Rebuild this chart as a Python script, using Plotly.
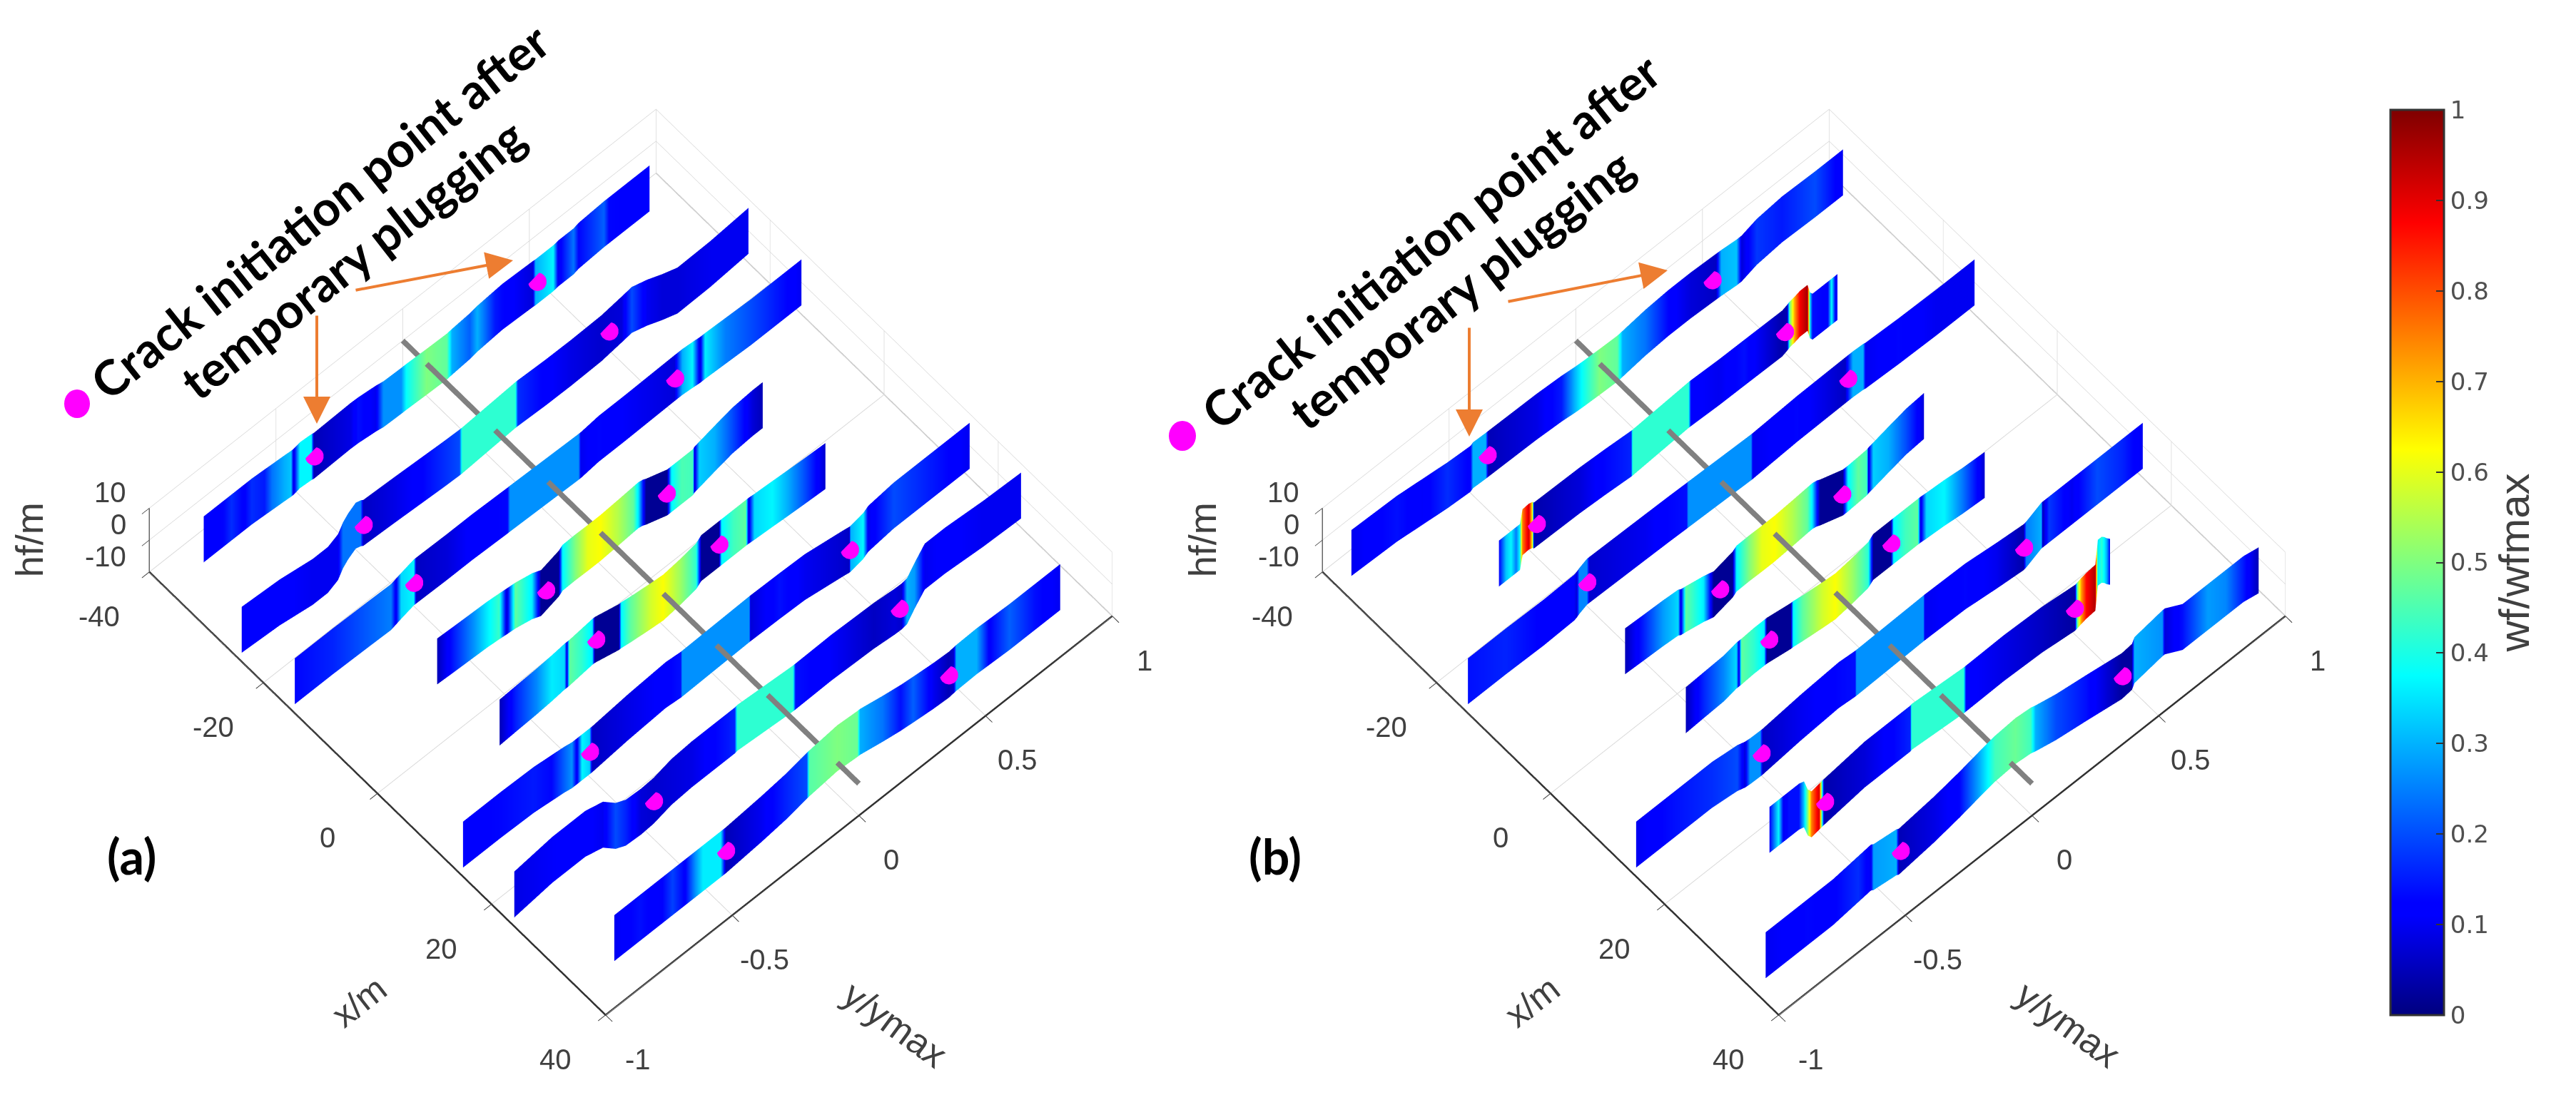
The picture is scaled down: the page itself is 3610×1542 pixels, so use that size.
import math
import plotly.graph_objects as go

W, H = 3610, 1542
HALF = 7.2

# ribbon rows: (y/ymax, wf/wfmax, centre height hf)
A1 = [(-.88,.11,0),(-.8,.13,0),(-.77,.17,0),(-.72,.12,0),(-.69,.17,0),(-.64,.15,-.3),(-.61,.24,-.5),(-.56,.3,-.8),(-.535,.32,-1),(-.525,.08,-1),(-.5,.37,-.5),(-.455,.37,-.8),(-.445,.05,-1),(-.3,.09,-.7),(-.27,.14,-.8),(-.2,.1,-1.5),(-.17,.27,-2),(-.1,.27,-2.2),(-.08,.38,-2.2),(0,.5,-2.5),(.08,.47,-2.7),(.1,.3,-2.5),(.17,.22,-2),(.2,.3,-1.5),(.27,.15,-1),(.3,.13,-.8),(.42,.08,-1.2),(.43,.3,-1.3),(.5,.37,-1.3),(.52,.1,-1),(.58,.24,-1),(.6,.13,-.5),(.7,.22,0),(.72,.13,0),(.88,.12,0)]
A2 = [(-1,.11,0),(-.85,.12,-.8),(-.72,.1,-2.5),(-.66,.1,-2.5),(-.62,.1,-1),(-.6,.24,1.5),(-.58,.24,3),(-.55,.24,4.5),(-.53,.24,4),(-.52,.06,3.5),(-.4,.09,3),(-.3,.12,2.5),(-.2,.17,2),(-.14,.2,1.8),(-.13,.42,1.8),(.08,.42,2.9),(.09,.17,2.9),(.2,.12,2.5),(.3,.09,2.4),(.42,.07,2.6),(.5,.08,3.5),(.54,.2,4),(.6,.1,2.5),(.66,.08,.5),(.72,.08,-1.2),(.85,.1,-1),(1,.1,0)]
A3 = [(-1,.13,0),(-.85,.16,0),(-.7,.22,-.3),(-.62,.25,-.5),(-.6,.1,0),(-.58,.34,.5),(-.53,.37,1.6),(-.52,.06,1.6),(-.4,.08,1.4),(-.3,.12,1.4),(-.16,.13,1),(-.15,.27,1),(.12,.27,.3),(.13,.1,.3),(.2,.13,1),(.3,.11,1),(.5,.08,1.3),(.53,.3,1.3),(.57,.37,1),(.6,.08,.7),(.62,.36,.7),(.7,.25,.4),(.8,.2,0),(.9,.15,0),(1,.1,0)]
A4 = [(-.645,.05,0),(-.58,.15,-.3),(-.5,.27,-.6),(-.447,.36,-.8),(-.4,.43,-1.2),(-.37,.07,-1.5),(-.336,.47,-1.8),(-.27,.36,-3),(-.235,.02,-4.2),(-.165,.02,-2.5),(-.15,.37,-1.6),(-.1,.5,-1.5),(-.05,.6,-1.6),(0,.62,-1.6),(.07,.55,-1.2),(.13,.47,-.8),(.15,.35,-.7),(.167,.15,-1),(.18,.02,-1.5),(.263,.02,-3.8),(.28,.37,-3.8),(.32,.45,-3.8),(.365,.44,-3.8),(.37,.07,-3.4),(.39,.33,-3),(.45,.3,-1.8),(.52,.2,-.5),(.6,.08,0),(.64,.05,0)]
A5 = [(-.646,.05,0),(-.58,.16,.3),(-.5,.26,.6),(-.44,.36,1),(-.39,.34,1.5),(-.38,.08,1.5),(-.37,.47,1.5),(-.32,.42,2),(-.28,.36,2.4),(-.27,.02,2.4),(-.175,.02,.5),(-.166,.37,.5),(-.128,.47,0),(-.05,.58,-.8),(0,.62,-1.2),(.066,.53,-.5),(.13,.42,.5),(.15,.02,1.8),(.22,.02,1.8),(.23,.37,1.8),(.278,.44,1.8),(.326,.47,1.8),(.337,.08,1.8),(.36,.34,1.6),(.43,.37,1.2),(.49,.3,.8),(.56,.2,.4),(.64,.07,0)]
A6 = [(-1,.12,0),(-.85,.13,0),(-.72,.15,-.3),(-.65,.13,-1),(-.6,.22,-1.5),(-.57,.27,-2),(-.55,.1,-2),(-.53,.37,-2),(-.5,.33,-2),(-.49,.06,-2),(-.35,.09,-.8),(-.2,.12,0),(-.14,.14,-.5),(-.135,.27,-.5),(.13,.27,0),(.135,.08,0),(.25,.14,-.2),(.35,.1,-.5),(.5,.07,-2.5),(.525,.06,-2.9),(.53,.3,-2.9),(.58,.37,-2),(.6,.1,-1),(.7,.2,0),(.85,.15,0),(1,.1,0)]
A7 = [(-1,.09,0),(-.85,.11,1.5),(-.72,.12,1.5),(-.65,.1,0),(-.6,.2,-3.5),(-.56,.16,-5),(-.5,.08,-5.3),(-.45,.07,-5),(-.38,.08,-3.5),(-.3,.09,-3),(-.2,.13,-3),(-.13,.16,-3),(-.12,.42,-2.8),(.1,.42,-4.2),(.11,.14,-4.2),(.25,.11,-4),(.42,.06,-4.5),(.5,.08,-5.2),(.53,.07,-5.3),(.55,.3,-5),(.58,.28,-2),(.62,.1,1.5),(.7,.12,1.5),(.85,.1,.5),(1,.1,0)]
A8 = [(-.88,.1,0),(-.78,.14,0),(-.7,.11,0),(-.65,.19,0),(-.6,.12,0),(-.56,.27,0),(-.53,.36,0),(-.46,.36,0),(-.44,.05,0),(-.3,.1,1),(-.2,.16,2),(-.12,.2,3.4),(-.11,.46,3.5),(0,.5,4.5),(.08,.48,4),(.09,.3,4),(.18,.24,2.5),(.25,.14,1.5),(.3,.22,1),(.38,.1,.3),(.44,.05,0),(.46,.07,.2),(.47,.3,.3),(.55,.3,.5),(.6,.12,.3),(.68,.22,0),(.78,.14,0),(.88,.1,0)]

B1 = [(-.98,.1,2),(-.8,.14,1.5),(-.7,.11,.5),(-.6,.17,-.5),(-.51,.12,-1),(-.5,.3,-.5),(-.45,.3,-.7),(-.44,.05,-.7),(-.25,.09,-1),(-.15,.15,-1.5),(-.1,.3,-2),(-.07,.38,-2.2),(0,.5,-2.5),(.07,.47,-2.7),(.09,.3,-2.5),(.18,.24,-1.5),(.27,.13,-1),(.36,.08,-1),(.46,.06,-1.4),(.48,.3,-1.5),(.54,.32,-2),(.56,.08,-2),(.62,.18,-.5),(.72,.15,.3),(.85,.2,0),(.96,.1,0)]
B2 = [(-.668,.12,0),(-.64,.32,0),(-.62,.37,0),(-.6,.25,0),(-.585,.38,0),(-.575,.75,4),(-.55,.92,4.2),(-.535,.6,3.8),(-.53,.04,3.3),(-.35,.08,3),(-.25,.13,2.5),(-.146,.16,1.8),(-.14,.42,1.8),(.08,.42,2.9),(.09,.12,2.9),(.2,.1,2.5),(.3,.14,2.4),(.45,.04,2.2),(.47,.05,2.8),(.48,.48,3.2),(.5,.72,3.5),(.52,.88,4),(.55,.96,4),(.56,.35,1),(.57,.14,0),(.63,.12,0),(.645,.38,0),(.66,.12,0),(.668,.1,0)]
B3 = [(-1,.14,0),(-.85,.16,0),(-.7,.12,-.3),(-.58,.11,0),(-.57,.08,.3),(-.56,.26,.8),(-.53,.26,1.8),(-.52,.07,1.8),(-.3,.1,1.4),(-.2,.13,1.2),(-.136,.14,1),(-.13,.27,1),(.118,.27,.3),(.125,.1,.3),(.3,.13,1),(.49,.06,1.2),(.52,.3,1.2),(.56,.3,1),(.57,.1,.8),(.7,.13,.3),(.85,.1,0),(1,.1,0)]
B4 = [(-.59,.05,0),(-.52,.15,-.3),(-.44,.28,-.6),(-.38,.34,-1),(-.37,.08,-1.5),(-.35,.47,-1.8),(-.28,.36,-3),(-.24,.02,-4),(-.165,.02,-2.5),(-.15,.37,-1.6),(-.1,.5,-1.5),(-.05,.6,-1.6),(0,.62,-1.6),(.07,.55,-1.2),(.13,.47,-.8),(.15,.35,-.7),(.167,.15,-1),(.18,.02,-1.5),(.27,.02,-4),(.29,.37,-4),(.33,.47,-3.8),(.365,.44,-3.6),(.37,.07,-3.4),(.39,.33,-3),(.45,.3,-1.8),(.52,.2,-.5),(.59,.08,0)]
B5 = [(-.59,.05,0),(-.52,.16,.3),(-.44,.26,.6),(-.39,.34,1.5),(-.38,.08,1.5),(-.37,.47,1.5),(-.32,.42,1.8),(-.28,.36,1.8),(-.27,.02,1.8),(-.175,.02,.5),(-.166,.37,.5),(-.128,.47,0),(-.05,.58,-.8),(0,.62,-1.2),(.066,.53,-.5),(.13,.42,.5),(.15,.02,1.8),(.22,.02,1.8),(.23,.37,1.8),(.278,.44,1.8),(.326,.47,1.8),(.337,.08,1.8),(.36,.34,1.6),(.43,.37,1.2),(.5,.25,.5),(.59,.07,0)]
B6 = [(-1,.1,0),(-.85,.14,0),(-.7,.17,0),(-.6,.2,-1),(-.57,.08,-1.8),(-.55,.27,-2),(-.51,.27,-2.1),(-.5,.06,-2.1),(-.35,.1,-.8),(-.2,.13,0),(-.135,.14,-.5),(-.13,.27,-.5),(.134,.27,0),(.14,.1,0),(.3,.13,-.3),(.42,.1,-1.5),(.53,.04,-2.4),(.54,.25,-2.2),(.6,.3,0),(.605,.05,0),(.63,.18,0),(.72,.1,0),(.82,.2,0),(.92,.16,0),(1,.1,0)]
B7 = [(-.676,.12,0),(-.64,.37,0),(-.62,.1,0),(-.6,.14,0),(-.56,.14,0),(-.54,.32,-.5),(-.525,.5,-4),(-.51,.75,-5.5),(-.48,.92,-5),(-.46,.04,-4.7),(-.3,.08,-3),(-.18,.13,-3),(-.12,.16,-3),(-.115,.42,-2.8),(.09,.42,-4.2),(.1,.12,-4.2),(.25,.09,-4),(.4,.06,-4.5),(.53,.03,-5.8),(.54,.5,-5.6),(.555,.72,-5.2),(.575,.87,-4.8),(.61,.95,-4.5),(.62,.35,2.7),(.635,.42,2.7),(.645,.37,2),(.655,.3,1),(.668,.12,0)]
B8 = [(-.966,.1,0),(-.8,.13,0),(-.7,.12,0),(-.6,.17,1),(-.55,.1,1.5),(-.54,.28,1),(-.45,.3,0),(-.44,.05,-.4),(-.3,.09,1),(-.2,.13,2.5),(-.12,.3,4),(-.06,.44,5),(.02,.48,5.5),(.08,.44,5),(.1,.3,4.5),(.18,.2,3),(.3,.14,1.5),(.44,.03,-.4),(.48,.03,0),(.49,.3,1.5),(.6,.27,3),(.61,.08,3),(.68,.14,0),(.78,.28,0),(.85,.26,0),(.92,.15,0),(.98,.05,-1)]

A_X = [-35.8, -23.8, -14.5, -5.3, 5.7, 15, 24, 36.2]
B_X = [-35.8, -23.8, -14.5, -5.15, 5.5, 15, 24, 36.2]
A_RIBBONS = [A1, A2, A3, A4, A5, A6, A7, A8]
B_RIBBONS = [B1, B2, B3, B4, B5, B6, B7, B8]

# crack initiation points after temporary plugging: (y/ymax, hf) on each ribbon
A_DOTS = [[(-.444,-1.1),(.436,-1.4)],[(-.52,3),(.45,3)],[(-.53,1.6),(.5,1.3)],[(-.216,-4.4),(.26,-3.8)],
          [(-.266,2.4),(.22,1.8)],[(-.5,-2),(.526,-2.9)],[(-.45,-5),(.52,-5.3)],[(-.44,0),(.44,0)]]
B_DOTS = [[(-.444,-.7),(.444,-1.4)],[(-.52,3.3),(.46,2.2)],[(-.53,1.8),(.5,1.2)],[(-.216,-3.8),(.266,-4.2)],
          [(-.262,1.8),(.22,1.8)],[(-.506,-2.1),(.53,-2.4)],[(-.458,-4.7),(.528,-5.8)],[(-.434,-.4),(.442,-.4)]]

WELL_X = [-40, 40]
X_TICKS = [-40, -20, 0, 20, 40]
Y_TICKS = [-1, -.5, 0, .5, 1]
Z_TICKS = [-10, 0, 10]
CB_TICKS = [0, .1, .2, .3, .4, .5, .6, .7, .8, .9, 1]
CB_LABELS = ["0", "0.1", "0.2", "0.3", "0.4", "0.5", "0.6", "0.7", "0.8", "0.9", "1"]

JET = [[0, "#00007f"], [.11, "#0000ff"], [.125, "#0000ff"], [.375, "#00ffff"], [.625, "#ffff00"], [.875, "#ff0000"], [1, "#7f0000"]]
ORANGE = "#ed7d31"
LIGHT = dict(ambient=1, diffuse=0, specular=0, roughness=1, fresnel=0)
# dots sit slightly toward the viewer along the line of sight, so the sheet does not cut them
DOT_LIFT = (.5, -.011, 1.55)

fig = go.Figure()


def add_frame(scene):
    fig.add_trace(go.Scatter3d(
        x=[-40, -40], y=[-1, -1], z=[-10, 10], mode="lines",
        line=dict(color="#404040", width=3), hoverinfo="skip", scene=scene, showlegend=False))
    fig.add_trace(go.Scatter3d(
        x=[-40, 40], y=[1, 1], z=[-10, -10], mode="lines",
        line=dict(color="#b0b0b0", width=3), hoverinfo="skip", scene=scene, showlegend=False))


def add_panel(scene, ribbons, xs, dots):
    for rows, x in zip(ribbons, xs):
        ys = [r[0] for r in rows]
        ws = [r[1] for r in rows]
        zc = [r[2] for r in rows]
        fig.add_trace(go.Surface(
            x=[[x] * len(ys)] * 2, y=[ys, ys],
            z=[[c - HALF for c in zc], [c + HALF for c in zc]],
            surfacecolor=[ws, ws], coloraxis="coloraxis", lighting=LIGHT,
            hoverinfo="skip", scene=scene))
    fig.add_trace(go.Scatter3d(
        x=WELL_X, y=[0, 0], z=[0, 0], mode="lines",
        line=dict(color="#808080", width=15), hoverinfo="skip", scene=scene, showlegend=False))
    dx, dy, dz = [], [], []
    for x, pair in zip(xs, dots):
        for y, z in pair:
            dx.append(x + DOT_LIFT[0])
            dy.append(y + DOT_LIFT[1])
            dz.append(z + DOT_LIFT[2])
    fig.add_trace(go.Scatter3d(
        x=dx, y=dy, z=dz, mode="markers",
        marker=dict(color="#ff00ff", size=15, line=dict(width=0)), hoverinfo="skip",
        scene=scene, showlegend=False))


add_frame("scene")
add_frame("scene2")
add_panel("scene3", A_RIBBONS, A_X, A_DOTS)
add_panel("scene4", B_RIBBONS, B_X, B_DOTS)

PHI, THETA, R = math.radians(-42), math.radians(61), 1.42
eye = dict(x=R * math.cos(THETA) * math.cos(PHI), y=R * math.cos(THETA) * math.sin(PHI), z=R * math.sin(THETA))
ZOOM = 1.365
CAMERA = dict(eye=eye, up=dict(x=0, y=0, z=1), center=dict(x=0, y=0, z=0), projection=dict(type="orthographic"))


def axis(rng, ticks, line=True):
    return dict(range=rng, tickvals=ticks, ticktext=[str(t) for t in ticks], autorange=False,
                showbackground=False, showgrid=True, gridcolor="#d9d9d9", gridwidth=2,
                zeroline=False, showline=line, linecolor="#303030", linewidth=5,
                ticks="outside", ticklen=14, tickcolor="#404040", tickwidth=2,
                showticklabels=False, title=dict(text=""), showspikes=False)


def hidden(rng):
    return dict(range=rng, autorange=False, visible=False, showspikes=False)


def label(x, y, z, text, dx, dy, angle=0, size=40, anchor="center"):
    return dict(x=x, y=y, z=z, text=text, xshift=dx, yshift=-dy, textangle=angle, showarrow=False, xanchor=anchor,
                font=dict(family="Liberation Sans", size=size, color="#404040"))


SCENE_LABELS = (
    [label(t, -1, -10, str(t), -70, 62) for t in X_TICKS]
    + [label(40, t, -10, str(t), 45, 62) for t in Y_TICKS]
    + [label(-40, -1, t, str(t), -30, -22, anchor="right") for t in Z_TICKS]
    + [label(10, -1, -10, "x/m", -105, 214, -38, 50),
       label(40, -.5, -10, "y/ymax", 228, 153, 36, 52),
       label(-40, -1, 0, "hf/m", -168, 0, -90, 54)]
)


def domain(cx, cy, half_w, half_h):
    return dict(x=[(cx - half_w) / W, (cx + half_w) / W], y=[1 - (cy + half_h) / H, 1 - (cy - half_h) / H])


def grid_scene(cx, cy):
    return dict(
        domain=domain(cx, cy, 810, 700),
        xaxis=axis([-40, 40], X_TICKS), yaxis=axis([-1, 1], Y_TICKS), zaxis=axis([-10, 10], Z_TICKS, False),
        aspectmode="manual", aspectratio=dict(x=ZOOM, y=ZOOM, z=.1931 * ZOOM),
        camera=CAMERA, annotations=SCENE_LABELS)


def ribbon_scene(cx, cy):
    # same view as the grid scene, with a taller hidden z range so the ribbons are not cut at the box
    return dict(
        domain=domain(cx, cy, 810, 700),
        xaxis=hidden([-42, 42]), yaxis=hidden([-1.05, 1.05]), zaxis=hidden([-20, 20]),
        aspectmode="manual", aspectratio=dict(x=ZOOM * 1.05, y=ZOOM * 1.05, z=.3862 * ZOOM),
        camera=CAMERA)


def note(x, y, text, angle, size):
    return dict(x=x / W, y=1 - y / H, xref="paper", yref="paper", text=text, textangle=angle, showarrow=False,
                font=dict(family="Lato", size=size, color="black", weight=700), xanchor="center", yanchor="middle")


def arrow(x0, y0, x1, y1):
    return dict(x=x1 / W, y=1 - y1 / H, xref="paper", yref="paper", axref="pixel", ayref="pixel",
                ax=x0 - x1, ay=y0 - y1, text="", showarrow=True, arrowhead=2, arrowsize=1.9, arrowwidth=4,
                arrowcolor=ORANGE)


def dot(cx, cy, rx, ry):
    return dict(type="circle", xref="paper", yref="paper", x0=(cx - rx) / W, x1=(cx + rx) / W,
                y0=1 - (cy + ry) / H, y1=1 - (cy - ry) / H, fillcolor="#ff00ff", line=dict(width=0))


fig.update_layout(
    width=W, height=H, margin=dict(l=0, r=0, t=0, b=0), paper_bgcolor="white", showlegend=False,
    scene=grid_scene(884, 788), scene2=grid_scene(2528, 788),
    scene3=ribbon_scene(884, 788), scene4=ribbon_scene(2528, 788),
    coloraxis=dict(cmin=0, cmax=1, colorscale=JET, colorbar=dict(
        x=3350 / W, xanchor="left", xpad=0, ypad=0, y=1 - 154 / H, yanchor="top", len=1269 / H, lenmode="fraction",
        thickness=75, thicknessmode="pixels", outlinewidth=3, outlinecolor="#333333",
        tickvals=CB_TICKS, ticktext=CB_LABELS, ticks="inside", ticklen=12, tickcolor="#333333", tickwidth=2,
        tickfont=dict(family="DejaVu Sans", size=34, color="#505050"),
        title=dict(text="wf/wfmax", side="right", font=dict(family="Liberation Sans", size=60, color="#404040")))),
    annotations=[
        note(447, 295, "Crack initiation point after", -38.5, 68),
        note(493, 362, "temporary plugging", -38, 68),
        note(2004, 337, "Crack initiation point after", -38.5, 68),
        note(2047, 405, "temporary plugging", -38, 68),
        note(184, 1199, "(a)", 0, 68),
        note(1787, 1199, "(b)", 0, 68),
        arrow(497, 407, 719, 365),
        arrow(444, 441, 444, 594),
        arrow(2112, 423, 2337, 379),
        arrow(2059, 458, 2059, 612),
    ],
    shapes=[dot(108, 566, 18, 20), dot(1657, 611, 19, 21)],
)

fig.write_html("out.html", config=dict(displayModeBar=False), post_script="document.body.style.margin='0';")
